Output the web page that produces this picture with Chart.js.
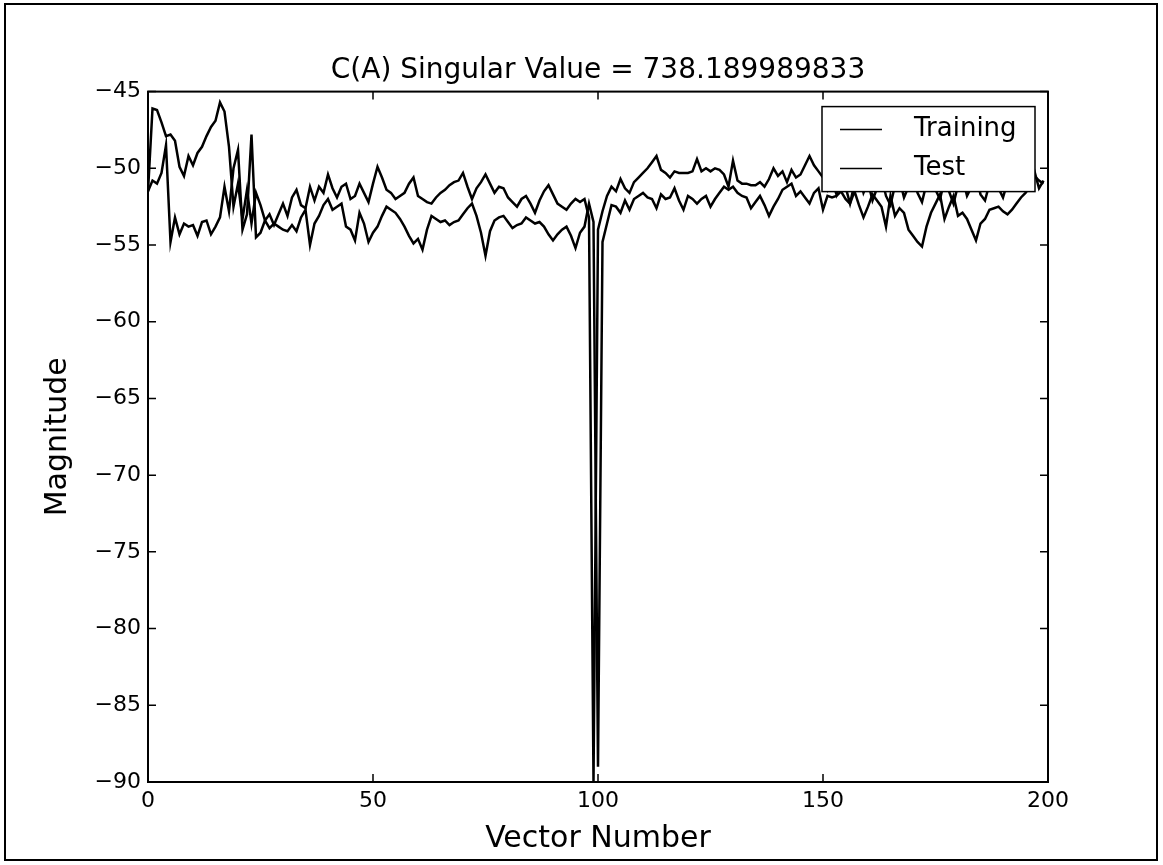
<!DOCTYPE html>
<html>
<head>
<meta charset="utf-8">
<script src="https://cdn.jsdelivr.net/npm/chart.js@4.4.0/dist/chart.umd.min.js"></script>
<style>
  body { margin: 0; background: #fff; }
  canvas { display: block; }
</style>
</head>
<body>
<canvas id="chart1" width="1163" height="865"></canvas>
<script>
// values, one per vector number 0..199
var training = [
  -51.5, -46.1, -46.2, -47.0, -47.9, -47.8, -48.2, -49.9, -50.5, -49.2,
  -49.8, -49.0, -48.6, -47.9, -47.3, -46.9, -45.7, -46.3, -48.6, -52.5,
  -51.0, -53.3, -51.4, -53.6, -51.6, -52.4, -53.4, -53.0, -53.7, -53.0,
  -52.3, -53.1, -51.9, -51.4, -52.4, -52.6, -51.2, -52.1, -51.2, -51.6,
  -50.4, -51.3, -51.9, -51.2, -51.0, -52.0, -51.8, -51.0, -51.6, -52.2,
  -51.0, -49.9, -50.6, -51.4, -51.6, -52.0, -51.8, -51.6, -51.0, -50.6,
  -51.8, -52.0, -52.2, -52.3, -51.9, -51.6, -51.4, -51.1, -50.9, -50.8,
  -50.3, -51.2, -52.0, -51.3, -50.9, -50.4, -51.0, -51.6, -51.2, -51.3,
  -51.9, -52.2, -52.5, -52.0, -51.8, -52.3, -52.9, -52.1, -51.5, -51.1,
  -51.7, -52.3, -52.5, -52.7, -52.3, -52.0, -52.2, -52.0, -53.2, -90.0,
  -54.0, -52.8, -51.8, -51.2, -51.5, -50.7, -51.3, -51.6, -50.9, -50.6,
  -50.3, -50.0, -49.6, -49.2, -50.1, -50.3, -50.6, -50.2, -50.3, -50.3,
  -50.3, -50.2, -49.4, -50.2, -50.0, -50.2, -50.0, -50.1, -50.4, -51.2,
  -49.5, -50.8, -51.0, -51.0, -51.1, -51.1, -50.9, -51.2, -50.7, -50.0,
  -50.5, -50.2, -50.9, -50.1, -50.6, -50.4, -49.8, -49.2, -49.8, -50.2,
  -50.6, -51.4, -50.8, -51.7, -50.5, -51.2, -52.3, -51.0, -50.4, -51.6,
  -50.9, -52.1, -51.3, -50.6, -51.8, -52.4, -51.1, -50.7, -51.9, -51.2,
  -50.5, -51.6, -52.2, -51.0, -50.3, -51.4, -52.0, -50.8, -51.5, -52.3,
  -51.1, -50.6, -51.8, -51.2, -50.4, -51.7, -52.1, -51.0, -50.5, -51.3,
  -51.9, -50.9, -50.4, -51.2, -50.7, -50.1, -50.6, -50.2, -51.3, -50.8
];

var test = [
  -51.5, -50.8, -51.0, -50.3, -48.5, -54.8, -53.2, -54.3, -53.6, -53.8,
  -53.7, -54.4, -53.5, -53.4, -54.3, -53.8, -53.2, -51.2, -52.8, -50.0,
  -48.8, -54.0, -53.0, -47.8, -54.5, -54.2, -53.4, -53.9, -53.6, -53.8,
  -54.0, -54.1, -53.7, -54.1, -53.2, -52.7, -55.0, -53.6, -53.1, -52.4,
  -52.0, -52.7, -52.5, -52.3, -53.8, -54.0, -54.7, -52.9, -53.6, -54.8,
  -54.2, -53.8, -53.1, -52.5, -52.7, -52.9, -53.3, -53.8, -54.4, -54.9,
  -54.6, -55.3, -54.0, -53.1, -53.3, -53.5, -53.4, -53.7, -53.5, -53.4,
  -53.0, -52.6, -52.3, -53.1, -54.2, -55.7, -54.1, -53.4, -53.2, -53.1,
  -53.5, -53.9, -53.7, -53.6, -53.2, -53.4, -53.6, -53.5, -53.8, -54.3,
  -54.7, -54.3, -54.0, -53.8, -54.4, -55.2, -54.2, -53.8, -52.3, -53.5,
  -89.0, -54.8, -53.6, -52.4, -52.5, -52.9, -52.1, -52.7, -52.0, -51.8,
  -51.6, -51.9, -52.0, -52.6, -51.7, -52.0, -51.9, -51.3, -52.1, -52.7,
  -51.8, -52.0, -52.3, -52.0, -51.8, -52.5, -52.0, -51.6, -51.2, -51.4,
  -51.2, -51.6, -51.8, -51.9, -52.6, -52.2, -51.8, -52.4, -53.1, -52.5,
  -52.0, -51.4, -51.2, -51.0, -51.8, -51.5, -51.9, -52.3, -51.6, -51.3,
  -52.7, -51.8, -51.9, -51.8, -51.5, -52.0, -52.3, -51.5, -52.4, -53.2,
  -52.5, -51.7, -52.1, -52.5, -53.8, -51.8, -53.1, -52.6, -52.9, -54.0,
  -54.4, -54.8, -55.1, -53.8, -52.9, -52.3, -51.7, -53.3, -52.5, -51.8,
  -53.1, -52.9, -53.3, -54.0, -54.7, -53.6, -53.3, -52.7, -52.6, -52.5,
  -52.8, -53.0, -52.7, -52.3, -51.9, -51.6, -51.2, -50.5, -50.8, -51.0
];

var seriesNames = ["Training", "Test"];
var yTicks = [-90, -85, -80, -75, -70, -65, -60, -55, -50, -45];
var xTicks = [0, 50, 100, 150, 200];

function toPoints(values) {
    return values.map(function (v, i) { return { x: i, y: v }; });
}

function minus(v) {
    return String(v).replace("-", "\u2212");
}

Chart.defaults.font.family = "'DejaVu Sans', sans-serif";
Chart.defaults.color = "#000";

// matplotlib style: ticks pointing in, on all four sides, plus the page frame
var innerTicks = {
    id: "innerTicks",
    afterDraw: function (chart) {
        var ctx = chart.ctx;
        var a = chart.chartArea;
        var xs = chart.scales.x, ys = chart.scales.y;
        ctx.save();
        ctx.strokeStyle = "#000";
        ctx.lineWidth = 1.5;
        ctx.beginPath();
        yTicks.forEach(function (t) {
            var py = ys.getPixelForValue(t);
            ctx.moveTo(a.left, py); ctx.lineTo(a.left + 8, py);
            ctx.moveTo(a.right, py); ctx.lineTo(a.right - 8, py);
        });
        xTicks.forEach(function (t) {
            var px = xs.getPixelForValue(t);
            ctx.moveTo(px, a.bottom); ctx.lineTo(px, a.bottom - 8);
            ctx.moveTo(px, a.top); ctx.lineTo(px, a.top + 8);
        });
        ctx.stroke();
        ctx.lineWidth = 2;
        ctx.strokeRect(a.left, a.top, a.right - a.left, a.bottom - a.top);
        ctx.strokeRect(5, 4, chart.width - 11, chart.height - 9);
        ctx.restore();
    }
};

var boxLegend = {
    id: "boxLegend",
    afterDatasetsDraw: function (chart) {
        var ctx = chart.ctx;
        var a = chart.chartArea;
        var left = a.right - 226, top = a.top + 15, w = 213, h = 85;
        ctx.save();
        ctx.fillStyle = "#fff";
        ctx.fillRect(left, top, w, h);
        ctx.strokeStyle = "#000";
        ctx.lineWidth = 1.5;
        ctx.strokeRect(left, top, w, h);
        ctx.font = "26px 'DejaVu Sans', sans-serif";
        ctx.textBaseline = "middle";
        ctx.fillStyle = "#000";
        chart.data.datasets.forEach(function (ds, i) {
            var y = top + 23 + i * 39;
            ctx.beginPath();
            ctx.moveTo(left + 18, y);
            ctx.lineTo(left + 60, y);
            ctx.lineWidth = 1.5;
            ctx.stroke();
            ctx.fillText(ds.label, left + 92, y);
        });
        ctx.restore();
    }
};

var ctx1 = document.getElementById("chart1").getContext("2d");
var chart1 = new Chart(ctx1, {
    type: "line",
    data: {
        datasets: [
            { label: seriesNames[0], data: toPoints(training), borderColor: "#000", borderWidth: 2.5, pointRadius: 0, tension: 0, fill: false },
            { label: seriesNames[1], data: toPoints(test), borderColor: "#000", borderWidth: 2.5, pointRadius: 0, tension: 0, fill: false }
        ]
    },
    options: {
        responsive: false,
        animation: false,
        layout: { padding: { left: 33, right: 0, top: 0, bottom: 0 } },
        plugins: {
            legend: { display: false },
            tooltip: { enabled: false },
            title: {
                display: true,
                text: "C(A) Singular Value = 738.189989833",
                font: { size: 28, weight: "normal" },
                color: "#000",
                padding: { top: 54, bottom: 4 }
            }
        },
        scales: {
            x: {
                type: "linear",
                min: 0,
                max: 200,
                afterBuildTicks: function (s) { s.ticks = xTicks.map(function (v) { return { value: v }; }); },
                afterFit: function (s) { s.height = 83; },
                grid: { display: false, drawTicks: false },
                border: { display: false },
                ticks: { font: { size: 22 }, color: "#000", padding: 6, maxRotation: 0 },
                title: { display: true, text: "Vector Number", font: { size: 30 }, color: "#000", padding: { top: 0, bottom: 8 } }
            },
            y: {
                type: "linear",
                min: -90,
                max: -45,
                afterBuildTicks: function (s) { s.ticks = yTicks.map(function (v) { return { value: v }; }); },
                afterFit: function (s) { s.width = 115; },
                grid: { display: false, drawTicks: false },
                border: { display: false },
                ticks: { font: { size: 22 }, color: "#000", padding: 7, callback: function (v) { return minus(v); } },
                title: { display: true, text: "Magnitude", font: { size: 30 }, color: "#000", padding: { top: 7, bottom: 0 } }
            },
            // empty right-hand strip so the plot sits where the reference has it
            yRight: {
                type: "linear",
                position: "right",
                min: -90,
                max: -45,
                afterFit: function (s) { s.width = 115; },
                grid: { display: false, drawTicks: false },
                border: { display: false },
                ticks: { display: false }
            }
        }
    },
    plugins: [boxLegend, innerTicks]
});
</script>
</body>
</html>
